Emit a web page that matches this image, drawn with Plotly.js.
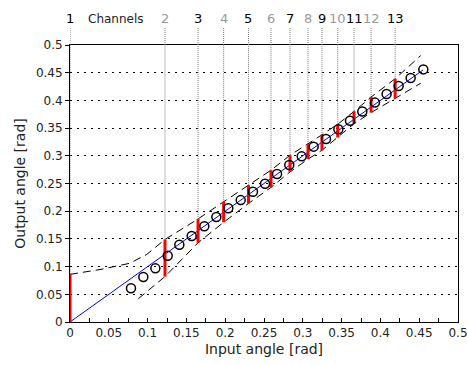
<!DOCTYPE html>
<html>
<head>
<meta charset="utf-8">
<script src="https://cdn.plot.ly/plotly-3.0.1.min.js"></script>
<style>html,body{margin:0;padding:0;background:#fff;}#chart{width:468px;height:365px;}</style>
</head>
<body>
<div id="chart"></div>
<script>
// Measured output angle vs input angle (open circles)
const inputAngle  = [0.0786, 0.0945, 0.1100, 0.1259, 0.1409, 0.1568, 0.1731, 0.1886, 0.2040, 0.2200, 0.2358, 0.2513, 0.2668, 0.2826, 0.2986, 0.3140, 0.3299, 0.3458, 0.3608, 0.3767, 0.3930, 0.4080, 0.4235, 0.4390, 0.4553];
const outputAngle = [0.0610, 0.0812, 0.0968, 0.1197, 0.1395, 0.1552, 0.1727, 0.1895, 0.2052, 0.2200, 0.2352, 0.2497, 0.2671, 0.2834, 0.2990, 0.3165, 0.3303, 0.3478, 0.3634, 0.3800, 0.3960, 0.4116, 0.4260, 0.4404, 0.4560];

// Ideal line
const idealX = [0, 0.455];
const idealY = [0, 0.455];

// Tolerance envelopes (dashed)
const upperX = [0, 0.040, 0.077, 0.099, 0.1224, 0.165, 0.198, 0.230, 0.259, 0.2835, 0.3067, 0.3247, 0.345, 0.366, 0.388, 0.419, 0.452];
const upperY = [0.086, 0.095, 0.106, 0.122, 0.149, 0.186, 0.217, 0.247, 0.274, 0.301, 0.321, 0.338, 0.357, 0.380, 0.406, 0.439, 0.481];
const lowerX = [0.088, 0.1224, 0.165, 0.198, 0.230, 0.259, 0.2835, 0.3067, 0.3247, 0.345, 0.366, 0.388, 0.419, 0.452];
const lowerY = [0.042, 0.082, 0.143, 0.180, 0.214, 0.243, 0.271, 0.294, 0.310, 0.333, 0.358, 0.378, 0.404, 0.431];

// Channel boundaries and red ranges
const channelLabels = ['1','2','3','4','5','6','7','8','9','10','11','12','13'];
const channelX  = [0, 0.1224, 0.165, 0.198, 0.230, 0.259, 0.2835, 0.3067, 0.3247, 0.345, 0.366, 0.388, 0.419];
const channelLo = [0, 0.082, 0.143, 0.180, 0.214, 0.243, 0.271, 0.294, 0.310, 0.333, 0.358, 0.378, 0.404];
const channelHi = [0.087, 0.149, 0.186, 0.217, 0.247, 0.274, 0.301, 0.321, 0.338, 0.357, 0.380, 0.406, 0.439];

const yTop = 0.5;
const FONT = 'DejaVu Sans, Verdana, sans-serif';

// build segment traces
const barX = [], barY = [], vlX = [], vlY = [];
channelX.forEach((x, i) => {
  barX.push(x, x, null); barY.push(channelLo[i], channelHi[i], null);
  vlX.push(x, x, null); vlY.push(channelHi[i], yTop, null);
});

const traces = [
  {x: vlX, y: vlY, mode: 'lines', line: {color: '#7a7a7a', width: 1, dash: '1px,1px'}, hoverinfo: 'skip', showlegend: false},
  {x: upperX, y: upperY, mode: 'lines', line: {color: '#000', width: 1, dash: '8px,5px'}, showlegend: false},
  {x: lowerX, y: lowerY, mode: 'lines', line: {color: '#000', width: 1, dash: '8px,5px'}, showlegend: false},
  {x: idealX, y: idealY, mode: 'lines', line: {color: '#0000ff', width: 1}, showlegend: false},
  {x: barX, y: barY, mode: 'lines', line: {color: '#ff0000', width: 3}, showlegend: false},
  {x: inputAngle, y: outputAngle, mode: 'markers', marker: {symbol: 'circle-open', size: 9, color: '#000', line: {width: 1.5}}, showlegend: false}
];

const shapes = channelX.map(x => ({
  type: 'line', xref: 'x', yref: 'paper', x0: x, x1: x, y0: 1, y1: 1.062,
  line: {color: '#7a7a7a', width: 1, dash: '1px,1px'}
}));

const annotations = channelX.map((x, i) => ({
  xref: 'x', yref: 'paper', x: x, y: 1.094, text: channelLabels[i], showarrow: false,
  xanchor: 'center', yanchor: 'middle',
  font: {family: FONT, size: 13, color: (i % 2 === 0) ? '#000' : '#999'}
}));
annotations.push({
  xref: 'paper', yref: 'paper', x: (116 - 70) / 388, y: 1.094, text: 'Channels', showarrow: false,
  xanchor: 'center', yanchor: 'middle', font: {family: FONT, size: 12, color: '#222'}
});

const layout = {
  width: 468, height: 365,
  margin: {l: 70, r: 10, t: 45, b: 43, pad: 0},
  paper_bgcolor: '#fff', plot_bgcolor: '#fff',
  font: {family: FONT, size: 12, color: '#222'},
  xaxis: {
    range: [0, 0.5], dtick: 0.05, tick0: 0, showgrid: false, zeroline: false,
    showline: true, linecolor: '#000', linewidth: 1, mirror: true,
    ticks: 'inside', ticklen: 4, tickcolor: '#000',
    minor: {dtick: 0.025, ticks: 'inside', ticklen: 4, tickcolor: '#000', showgrid: false},
    tickfont: {family: FONT, size: 12, color: '#222'},
    title: {text: 'Input angle [rad]', font: {family: FONT, size: 14, color: '#222'}, standoff: 4}
  },
  yaxis: {
    range: [0, 0.5], dtick: 0.05, tick0: 0, showgrid: true, gridcolor: '#000', gridwidth: 1, griddash: '2px,5px',
    zeroline: false, showline: true, linecolor: '#000', linewidth: 1, mirror: true,
    ticks: 'outside', ticklen: 4, tickcolor: '#000',
    tickfont: {family: FONT, size: 12, color: '#222'},
    title: {text: 'Output angle [rad]', font: {family: FONT, size: 14, color: '#222'}, standoff: 6}
  },
  shapes: shapes,
  annotations: annotations
};

Plotly.newPlot('chart', traces, layout, {staticPlot: true, displayModeBar: false});
</script>
</body>
</html>
